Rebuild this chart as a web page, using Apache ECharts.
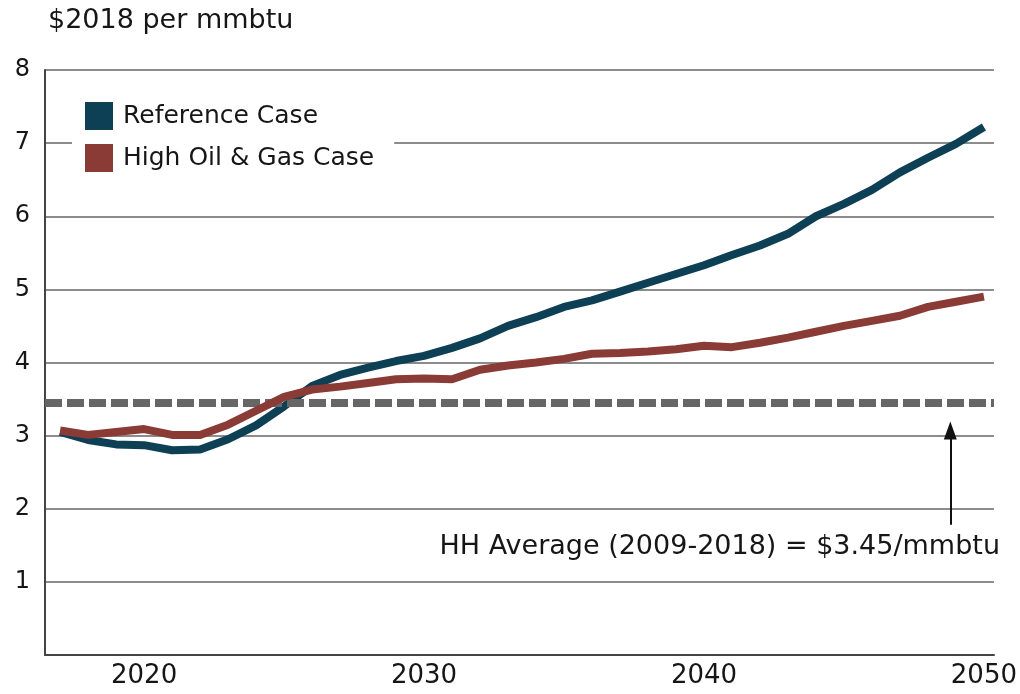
<!DOCTYPE html>
<html>
<head>
<meta charset="utf-8">
<script src="https://cdn.jsdelivr.net/npm/echarts@6/dist/echarts.min.js"></script>
<style>
  html, body { margin: 0; padding: 0; background: #fff; }
  #chart { width: 1020px; height: 694px; }
</style>
</head>
<body>
<div id="chart"></div>
<script>
// years on the x axis
var years = [2017, 2018, 2019, 2020, 2021, 2022, 2023, 2024, 2025, 2026,
             2027, 2028, 2029, 2030, 2031, 2032, 2033, 2034, 2035, 2036,
             2037, 2038, 2039, 2040, 2041, 2042, 2043, 2044, 2045, 2046,
             2047, 2048, 2049, 2050];

// Henry Hub price, $2018 per mmbtu
var refCase = [3.05, 2.94, 2.88, 2.87, 2.80, 2.81, 2.95, 3.14, 3.40, 3.68,
               3.83, 3.93, 4.02, 4.09, 4.20, 4.33, 4.50, 4.62, 4.76, 4.85,
               4.97, 5.09, 5.21, 5.33, 5.47, 5.60, 5.76, 6.00, 6.17, 6.36,
               6.60, 6.80, 6.99, 7.22];
var highCase = [3.07, 3.01, 3.05, 3.09, 3.01, 3.01, 3.15, 3.34, 3.53, 3.63,
                3.67, 3.72, 3.77, 3.78, 3.77, 3.90, 3.96, 4.00, 4.05, 4.12,
                4.13, 4.15, 4.18, 4.23, 4.21, 4.27, 4.34, 4.42, 4.50, 4.57,
                4.64, 4.76, 4.83, 4.90];

var seriesNames = ['Reference Case', 'High Oil & Gas Case'];
var xTickLabels = [2020, 2030, 2040, 2050];

// HH average 2009-2018 and the arrow pointing at it
var hhAverage = 3.45;
var arrowYear = 2048.8;
var arrowFrom = 1.78;
var arrowTo = 3.07;   // arrow head sticks out past this end
var hhText = 'HH Average (2009-2018) = $3.45/mmbtu';

function pairs(xs, ys) {
    var out = [];
    for (var i = 0; i < xs.length; i++) {
        out.push([xs[i], ys[i]]);
    }
    return out;
}

var font = '"DejaVu Sans", "Open Sans", sans-serif';
var ink = '#161616';

var myChart = echarts.init(document.getElementById('chart'));
var option = {
    animation: false,
    textStyle: { fontFamily: font },
    title: {
        text: '$2018 per mmbtu',
        left: 43,
        top: 2,
        textStyle: { fontFamily: font, fontSize: 27, fontWeight: 'normal', color: ink }
    },
    grid: {
        left: 45,
        top: 70,
        right: 25,
        bottom: 39
    },
    legend: {
        data: seriesNames,
        orient: 'vertical',
        left: 72,
        top: 99,
        padding: [3, 20, 3, 13],
        backgroundColor: '#fff',
        icon: 'rect',
        itemWidth: 28,
        itemHeight: 28,
        itemGap: 14,
        textStyle: { fontFamily: font, fontSize: 25, color: ink, padding: [3, 18, 0, 5] }
    },
    xAxis: {
        type: 'value',
        min: 2016.46,
        max: 2050.36,
        axisLine: { lineStyle: { color: '#444', width: 2 } },
        axisTick: { show: false },
        splitLine: { show: false },
        axisLabel: {
            customValues: xTickLabels,
            formatter: function (v) { return String(v); },
            margin: 8,
            fontSize: 26,
            color: ink,
            fontFamily: font
        }
    },
    yAxis: {
        type: 'value',
        min: 0,
        max: 8,
        interval: 1,
        axisLine: { show: true, lineStyle: { color: '#444', width: 2 } },
        axisTick: { show: false },
        axisLabel: {
            showMinLabel: false,
            margin: 15,
            fontSize: 24,
            color: ink,
            fontFamily: font
        },
        splitLine: { lineStyle: { color: '#666', width: 1.5 } }
    },
    series: [
        {
            name: seriesNames[0],
            type: 'line',
            color: '#0d3f55',
            symbol: 'none',
            lineStyle: { width: 8 },
            z: 4,
            data: pairs(years, refCase),
            markLine: {
                silent: true,
                symbol: 'none',
                label: { show: false },
                lineStyle: { color: '#666', width: 8, type: [17, 5] },
                data: [{ yAxis: hhAverage }]
            }
        },
        {
            name: seriesNames[1],
            type: 'line',
            color: '#8b3b36',
            symbol: 'none',
            lineStyle: { width: 8 },
            z: 5,
            data: pairs(years, highCase),
            markLine: {
                silent: true,
                symbol: ['none', 'triangle'],
                symbolSize: [13, 18],
                label: { show: false },
                lineStyle: { color: '#111', width: 2, type: 'solid' },
                data: [[{ coord: [arrowYear, arrowFrom] }, { coord: [arrowYear, arrowTo] }]]
            }
        }
    ],
    graphic: [{
        type: 'text',
        right: 20,
        top: 533,
        style: {
            text: hhText,
            fontFamily: font,
            fontSize: 27,
            fill: ink
        }
    }]
};
myChart.setOption(option);
</script>
</body>
</html>
